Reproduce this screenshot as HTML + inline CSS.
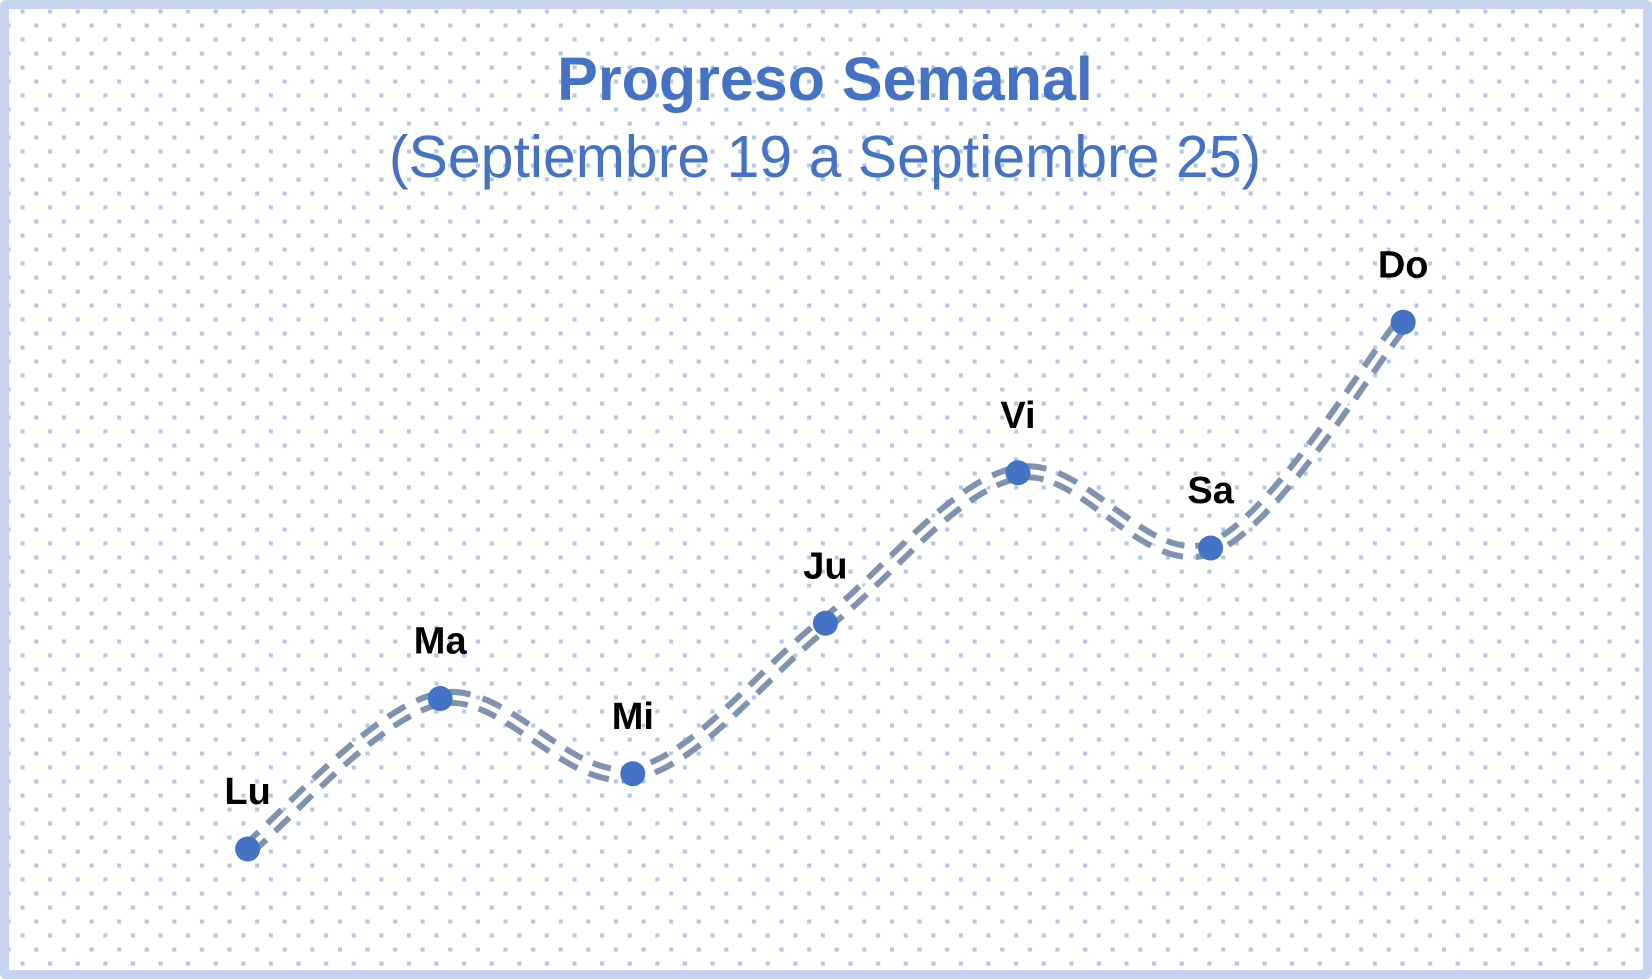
<!DOCTYPE html>
<html><head><meta charset="utf-8"><style>
html,body{margin:0;padding:0;background:#fff}
svg{display:block}
</style></head><body>
<svg id="chart" width="1652" height="979" viewBox="0 0 1652 979" xmlns="http://www.w3.org/2000/svg">
<defs>
<pattern id="dots" x="0" y="0" width="27.6" height="28" patternUnits="userSpaceOnUse">
<rect x="20.5" y="9.5" width="4" height="4" fill="#b3c5e8"/>
<rect x="6.7" y="23.5" width="4" height="4" fill="#b3c5e8"/>
</pattern>
</defs>
<rect x="0" y="0" width="1652" height="979" rx="6" fill="#c5d3ee"/>
<rect x="9" y="9" width="1634" height="961" fill="#fff"/>
<rect x="9" y="9" width="1634" height="961" fill="url(#dots)"/>
<text x="825" y="100" text-anchor="middle" font-family="Liberation Sans, sans-serif" font-weight="bold" font-size="61" fill="#4472c4">Progreso Semanal</text>
<text x="825" y="177" text-anchor="middle" font-family="Liberation Sans, sans-serif" font-size="59" fill="#4472c4">(Septiembre 19 a Septiembre 25)</text>
<g id="series"></g>
</svg>
<script>
const days = ["Lu","Ma","Mi","Ju","Vi","Sa","Do"];
const values = [1,3,2,4,6,5,8];
const NS="http://www.w3.org/2000/svg";
function xScale(i){return 247.6+i*192.6;}
function yScale(v){return 849-(v-1)*75.25;}
const g=document.getElementById('series');
const pts=values.map((v,i)=>[xScale(i),yScale(v)]);
let d="M"+pts[0][0]+","+pts[0][1];
for(let i=0;i<pts.length-1;i++){
  const p0=pts[Math.max(0,i-1)],p1=pts[i],p2=pts[i+1],p3=pts[Math.min(pts.length-1,i+2)];
  const c1=[p1[0]+(p2[0]-p0[0])/6,p1[1]+(p2[1]-p0[1])/6];
  const c2=[p2[0]-(p3[0]-p1[0])/6,p2[1]-(p3[1]-p1[1])/6];
  d+=" C"+c1+" "+c2+" "+p2;
}
const outer=document.createElementNS(NS,'path');


outer.setAttribute('d',d);outer.setAttribute('fill','none');outer.setAttribute('stroke','#7f93b0');
outer.setAttribute('stroke-width','17');outer.setAttribute('stroke-dasharray','20 12');
g.appendChild(outer);
const inner=document.createElementNS(NS,'path');


inner.setAttribute('d',d);inner.setAttribute('fill','none');inner.setAttribute('stroke','#fff');
inner.setAttribute('stroke-width','5');
g.appendChild(inner);
pts.forEach((p,i)=>{
  const c=document.createElementNS(NS,'circle');
  
  
  c.setAttribute('cx',p[0]);c.setAttribute('cy',p[1]);c.setAttribute('r','12.5');c.setAttribute('fill','#4472c4');
  g.appendChild(c);
  const t=document.createElementNS(NS,'text');
  
  
  t.setAttribute('x',p[0]);t.setAttribute('y',p[1]-45);t.setAttribute('text-anchor','middle');
  t.setAttribute('font-family','Liberation Sans, sans-serif');t.setAttribute('font-weight','bold');
  t.setAttribute('font-size','38');t.setAttribute('fill','#000');
  t.textContent=days[i];
  g.appendChild(t);
});
</script>
</body></html>
